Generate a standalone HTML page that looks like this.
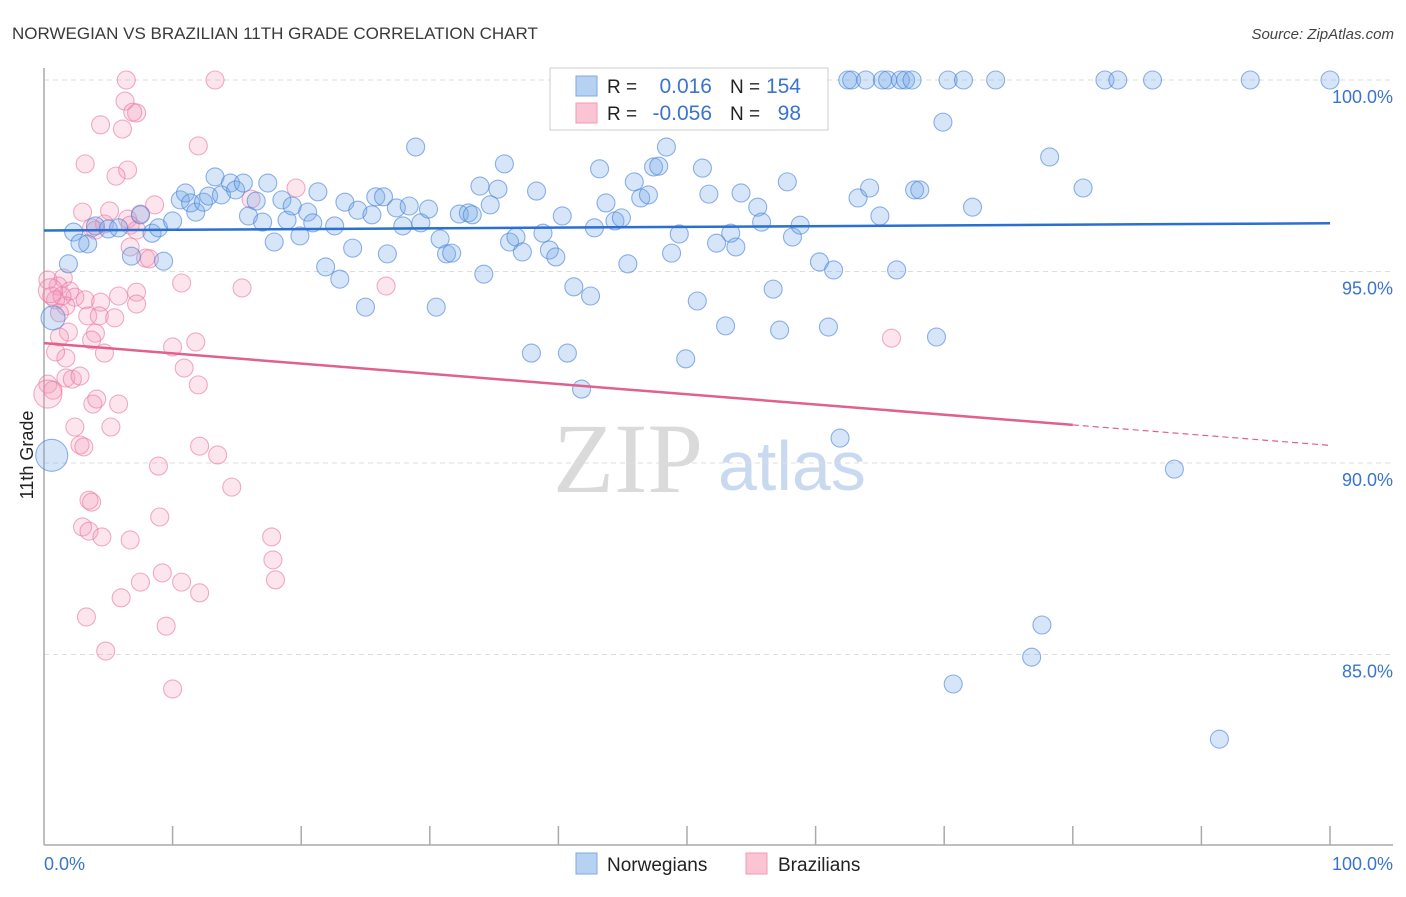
<!DOCTYPE html>
<html><head><meta charset="utf-8"><style>
body{margin:0;background:#fff;font-family:"Liberation Sans",sans-serif;}
svg text{font-family:"Liberation Sans",sans-serif;}
</style></head><body>
<svg id="chart" width="1406" height="892" viewBox="0 0 1406 892">
<text x="12" y="39" font-size="17" fill="#3a3a3a">NORWEGIAN VS BRAZILIAN 11TH GRADE CORRELATION CHART</text>
<text x="1394" y="39" font-size="15" fill="#444" font-style="italic" text-anchor="end">Source: ZipAtlas.com</text>
<g>
<text x="553" y="492" font-size="100" fill="#dadada" style="font-family:'Liberation Serif',serif">ZIP</text>
<text x="718" y="490" font-size="70" fill="#c9daf0">atlas</text>
</g>
<g id="grid"></g>
<g id="axes"></g>
<g id="pts"></g>
<g id="trend"></g>
<text transform="translate(33,455) rotate(-90)" font-size="18" fill="#222" text-anchor="middle">11th Grade</text>
<g>
<rect x="550" y="68" width="278" height="62" fill="#fff" stroke="#ccc"/>
<rect x="576" y="76" width="21" height="20" fill="#b7d1f3" stroke="#7fa9e3"/>
<rect x="576" y="103" width="21" height="20" fill="#fbc4d3" stroke="#f19ab5"/>
<text x="607" y="93" font-size="19" fill="#222">R =</text>
<text x="712" y="93" font-size="21" fill="#3a74cc" text-anchor="end">0.016</text>
<text x="730" y="93" font-size="19" fill="#222">N =</text>
<text x="801" y="93" font-size="21" fill="#3a74cc" text-anchor="end">154</text>
<text x="607" y="120" font-size="19" fill="#222">R =</text>
<text x="712" y="120" font-size="21" fill="#3a74cc" text-anchor="end">-0.056</text>
<text x="730" y="120" font-size="19" fill="#222">N =</text>
<text x="801" y="120" font-size="21" fill="#3a74cc" text-anchor="end">98</text>
</g>
<g>
<rect x="576" y="853" width="21" height="21" fill="#b7d1f3" stroke="#7fa9e3"/>
<text x="607" y="871" font-size="19" fill="#222">Norwegians</text>
<rect x="746" y="853" width="21" height="21" fill="#fbc4d3" stroke="#f19ab5"/>
<text x="778" y="871" font-size="19" fill="#222">Brazilians</text>
</g>
</svg>
<script>
const yTicks=[100,95,90,85];
const yTickLabels=["100.0%","95.0%","90.0%","85.0%"];
const xTickLabels=["0.0%","100.0%"];
const blueX=[2.3,3.4,2.8,1.9,4.0,5.0,5.8,7.5,6.8,8.4,8.9,9.3,10.0,10.6,11.0,11.4,11.8,12.4,12.8,13.3,13.8,14.5,14.9,15.5,15.9,16.5,17.0,17.4,17.9,18.5,18.9,19.3,19.9,20.5,20.9,21.3,21.9,22.6,23.0,23.4,24.0,24.4,25.0,25.5,25.8,26.4,26.7,27.4,27.9,28.4,28.9,29.3,29.9,30.5,30.8,31.3,31.7,32.3,33.0,33.3,33.9,34.2,34.7,35.3,35.8,36.2,36.7,37.2,37.9,38.3,38.8,39.3,39.8,40.3,40.7,41.2,41.8,42.5,42.8,43.2,43.7,44.4,44.9,45.4,45.9,46.4,47.0,47.4,47.8,48.4,48.8,49.4,49.9,50.8,51.2,51.7,52.3,53.0,53.4,53.8,54.2,55.5,55.8,56.7,57.2,57.8,58.2,58.8,60.2,60.3,61.0,61.4,61.9,62.5,62.8,63.3,63.9,64.2,65.0,65.2,65.6,66.3,66.6,67.0,67.5,67.7,68.1,69.4,69.9,70.3,70.7,71.5,72.2,74.0,77.6,76.8,78.2,80.8,82.5,83.5,86.2,87.9,91.4,93.8,100.0,56.4,50.4,54.8];
const blueY=[96.03,95.72,95.74,95.2,96.19,96.11,96.14,96.48,95.4,96.0,96.14,95.27,96.32,96.87,97.05,96.79,96.55,96.81,96.97,97.47,97.0,97.31,97.13,97.31,96.45,96.84,96.29,97.31,95.77,96.87,96.34,96.71,95.93,96.55,96.27,97.08,95.12,96.19,94.8,96.81,95.61,96.6,94.07,96.48,96.95,96.95,95.46,96.66,96.19,96.71,98.25,96.27,96.63,94.07,95.85,95.46,95.48,96.5,96.53,96.48,97.23,94.93,96.74,97.15,97.81,95.77,95.9,95.51,92.87,97.1,96.0,95.56,95.38,96.45,92.87,94.6,91.93,94.36,96.14,97.68,96.79,96.32,96.4,95.2,97.34,96.92,97.0,97.73,97.75,98.25,95.48,95.98,92.72,94.23,97.7,97.02,95.74,93.58,96.0,95.64,97.05,96.68,96.29,94.54,93.47,97.34,95.9,96.21,100,95.25,93.55,95.04,90.65,100,100,96.92,100,97.18,96.45,100,100,95.04,100,100,100,97.13,97.13,93.29,98.9,100,84.23,100,96.68,100,85.77,84.93,97.99,97.18,100,100,100,89.84,82.79,100,100,99.04,99.0,100];
const blueBigX=[0.6,0.7];
const blueBigY=[90.2,93.79];
const blueBigR=[16,12];
const pinkX=[6.4,13.3,6.3,7.2,6.9,4.4,6.1,3.2,6.5,12.0,5.6,3.0,5.1,6.5,7.5,8.6,4.7,3.7,6.7,4.0,7.2,16.1,19.6,6.7,7.9,8.2,1.5,1.1,2.0,2.4,1.7,3.2,4.4,5.8,7.2,7.2,10.7,15.4,26.6,0.3,0.6,0.9,1.4,3.4,4.3,5.5,1.2,1.9,4.0,10.0,11.8,1.2,1.7,0.9,3.7,4.7,0.3,0.7,1.7,2.2,2.8,10.9,12.0,65.9,3.8,4.1,5.8,2.4,5.2,2.8,3.1,8.9,12.1,13.5,14.6,3.5,3.7,9.0,3.0,3.5,4.5,6.7,17.7,17.8,18.0,7.5,9.2,10.7,12.1,6.0,3.3,9.5,4.8,10.0];
const pinkY=[100,100,99.45,99.14,99.16,98.83,98.72,97.81,97.65,98.28,97.49,96.55,96.58,96.37,96.5,96.74,96.24,96.14,96.21,96.08,96.08,96.89,97.18,95.64,95.35,95.33,94.83,94.62,94.49,94.33,94.1,94.26,94.2,94.36,94.46,94.15,94.7,94.57,94.62,94.78,94.36,94.26,94.36,93.84,93.84,93.79,93.92,93.42,93.39,93.03,93.16,93.29,92.74,92.9,93.21,92.87,92.06,91.9,92.22,92.19,92.27,92.48,92.04,93.26,91.54,91.67,91.54,90.94,90.94,90.47,90.42,89.92,90.44,90.21,89.37,89.03,88.98,88.59,88.33,88.22,88.07,87.99,88.07,87.47,86.95,86.89,87.13,86.89,86.61,86.48,85.98,85.74,85.09,84.1];
const pinkBigX=[0.3,0.5];
const pinkBigY=[91.8,94.5];
const pinkBigR=[14,12];
const blueTrend=[96.07,96.26];
const pinkTrend=[93.13,90.46];
const pinkSolidEnd=80;

const NS="http://www.w3.org/2000/svg";
function sx(v){return 44+v*12.86;}
function sy(v){return 80+(100-v)*38.3;}
function mk(tag,attrs,parent){const e=document.createElementNS(NS,tag);for(const k in attrs)e.setAttribute(k,attrs[k]);parent.appendChild(e);return e;}
const grid=document.getElementById('grid'),axes=document.getElementById('axes'),pts=document.getElementById('pts'),trend=document.getElementById('trend');
yTicks.forEach((t,i)=>{
  const l=mk('line',{x1:44,x2:1393,y1:sy(t),y2:sy(t),stroke:'#ddd','stroke-dasharray':'5,4'},grid);
  
  
  const tx=mk('text',{x:1393,y:sy(t)+23,'font-size':18,fill:'#3a74cc','text-anchor':'end'},grid);
  tx.textContent=yTickLabels[i];
  
  
});
mk('line',{x1:44,x2:44,y1:68,y2:845,stroke:'#aaa','stroke-width':1.5},axes);
mk('line',{x1:44,x2:1393,y1:845,y2:845,stroke:'#aaa','stroke-width':1.5},axes);
for(let i=1;i<=10;i++){
  const t=mk('line',{x1:sx(i*10),x2:sx(i*10),y1:826,y2:845,stroke:'#aaa','stroke-width':1.5},axes);
  
  
}
const xl0=mk('text',{x:44,y:870,'font-size':18,fill:'#3a74cc'},axes);xl0.textContent=xTickLabels[0];


const xl1=mk('text',{x:1393,y:870,'font-size':18,fill:'#3a74cc','text-anchor':'end'},axes);xl1.textContent=xTickLabels[1];


function dot(x,y,r,blue){
  const c=mk('circle',{cx:sx(x),cy:sy(y),r:r,fill:blue?'rgba(120,168,232,0.3)':'rgba(244,150,182,0.25)',stroke:blue?'rgba(70,130,215,0.6)':'rgba(232,120,160,0.6)','stroke-width':1.1},pts);
  
  
}
pinkX.forEach((x,i)=>dot(x,pinkY[i],9,false));
pinkBigX.forEach((x,i)=>dot(x,pinkBigY[i],pinkBigR[i],false));
blueX.forEach((x,i)=>dot(x,blueY[i],9,true));
blueBigX.forEach((x,i)=>dot(x,blueBigY[i],blueBigR[i],true));
const bl=mk('line',{x1:sx(0),y1:sy(blueTrend[0]),x2:sx(100),y2:sy(blueTrend[1]),stroke:'#2a6fd1','stroke-width':2.5},trend);


const pe=pinkTrend[0]+(pinkTrend[1]-pinkTrend[0])*pinkSolidEnd/100;
const pl=mk('line',{x1:sx(0),y1:sy(pinkTrend[0]),x2:sx(pinkSolidEnd),y2:sy(pe),stroke:'#e0608e','stroke-width':2.5},trend);


const pd=mk('line',{x1:sx(pinkSolidEnd),y1:sy(pe),x2:sx(100),y2:sy(pinkTrend[1]),stroke:'#e0608e','stroke-width':1.2,'stroke-dasharray':'6,4'},trend);


</script>
</body></html>
